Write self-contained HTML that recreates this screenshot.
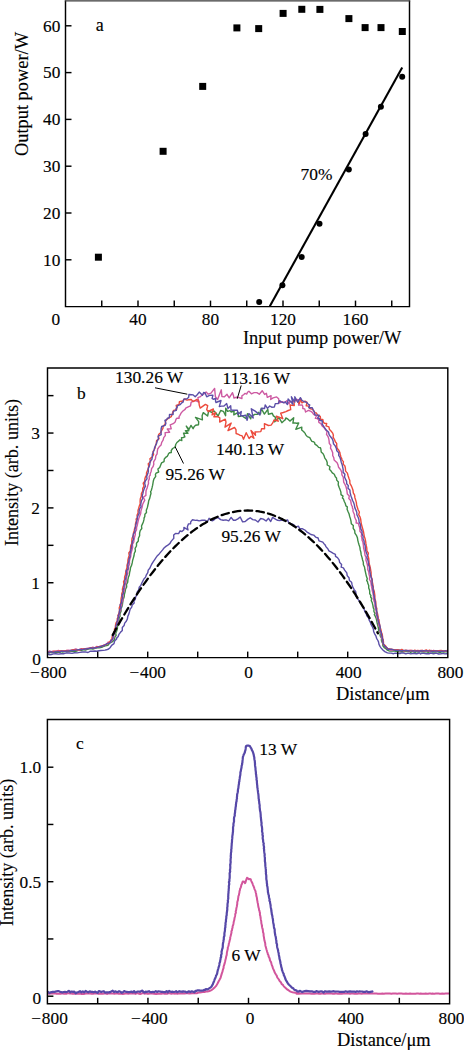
<!DOCTYPE html>
<html><head><meta charset="utf-8"><style>
html,body{margin:0;padding:0;background:#fff;width:464px;height:1050px;overflow:hidden}
svg{display:block}
text{font-family:"Liberation Serif", serif;stroke:#000;stroke-width:0.15px}
</style></head><body>
<svg width="464" height="1050" viewBox="0 0 464 1050" font-family='"Liberation Serif", serif' fill="#000">
<rect width="464" height="1050" fill="#fff"/>
<path d="M48.0,652.7 L49.4,652.7 L51.2,652.3 L53.4,652.6 L55.8,652.5 L58.5,652.1 L59.8,652.4 L61.2,651.5 L62.6,652.1 L64.0,651.6 L65.4,651.6 L66.8,651.7 L68.1,651.6 L70.8,651.4 L73.2,651.1 L75.9,651.3 L78.5,650.4 L79.8,649.8 L81.3,650.5 L82.6,649.9 L84.0,649.9 L85.4,650.1 L88.0,649.1 L90.5,648.6 L92.9,649.1 L94.9,648.3 L96.7,647.9 L98.9,647.8 L100.5,647.5 L102.3,647.0 L104.0,646.2 L105.3,645.9 L107.9,645.4 L109.7,643.1 L111.7,642.2 L113.5,640.7 L114.6,639.3 L114.9,636.9 L116.1,635.5 L115.7,633.3 L116.6,631.3 L117.3,629.1 L117.5,626.6 L118.2,624.0 L118.9,621.4 L119.0,620.1 L119.1,618.7 L119.4,617.3 L120.1,616.1 L119.9,614.6 L120.2,613.3 L121.1,611.0 L121.0,608.6 L122.0,606.4 L122.5,604.0 L122.8,601.6 L123.3,599.2 L124.2,596.8 L124.4,594.3 L125.1,591.8 L125.5,589.3 L126.7,587.0 L126.5,584.4 L127.7,582.1 L127.9,579.6 L128.4,577.3 L129.3,574.9 L129.6,572.5 L130.2,570.1 L130.5,567.6 L131.6,565.3 L132.2,562.9 L132.6,560.5 L133.3,558.1 L134.0,555.8 L134.3,553.3 L135.4,551.1 L135.1,548.4 L136.5,546.0 L136.5,543.3 L138.3,541.0 L138.4,538.2 L139.6,535.8 L139.6,533.1 L140.2,530.6 L141.8,528.5 L141.5,526.0 L142.5,523.9 L143.3,522.0 L144.0,519.4 L144.1,517.8 L144.8,516.6 L144.9,514.2 L146.5,512.5 L146.3,510.2 L147.2,507.9 L147.6,506.6 L147.9,505.0 L148.4,503.0 L148.7,500.7 L149.7,498.4 L150.3,495.8 L151.0,493.2 L150.6,491.7 L151.3,490.5 L152.0,487.9 L152.6,485.4 L153.0,483.0 L153.4,480.7 L154.0,478.8 L155.7,476.3 L155.4,474.5 L156.1,473.2 L158.7,472.0 L157.9,469.1 L159.7,467.5 L160.6,465.2 L161.5,462.9 L164.0,461.6 L164.3,458.9 L166.0,457.1 L167.2,456.3 L167.9,455.1 L168.5,453.8 L169.5,452.8 L171.3,452.5 L171.2,450.6 L172.6,448.5 L175.2,447.1 L175.7,444.5 L176.9,442.5 L178.9,440.9 L179.7,439.8 L181.8,440.5 L181.5,437.6 L183.2,437.5 L184.9,436.9 L183.5,433.1 L188.0,433.3 L185.4,430.8 L188.8,430.7 L186.3,426.1 L189.1,429.2 L191.0,425.4 L193.1,428.7 L194.3,426.4 L195.6,425.2 L198.5,424.7 L198.7,421.6 L195.5,417.4 L199.6,418.9 L202.4,419.9 L202.1,415.8 L203.3,412.6 L207.6,416.0 L208.7,410.9 L211.6,412.3 L214.0,410.9 L215.6,412.8 L218.1,416.0 L220.7,410.5 L223.4,411.3 L225.6,415.8 L225.7,408.1 L227.6,411.3 L230.0,410.6 L231.2,412.0 L234.1,411.0 L233.8,414.9 L238.2,412.4 L238.3,416.6 L240.3,416.3 L242.0,415.7 L243.9,417.2 L246.2,418.7 L247.5,413.6 L250.7,418.8 L251.2,416.3 L252.5,415.8 L254.7,414.4 L257.6,414.4 L258.3,412.3 L260.5,413.8 L261.2,408.3 L264.4,414.1 L267.8,409.3 L268.4,414.2 L272.2,413.3 L273.4,415.9 L275.6,417.3 L274.7,421.8 L279.1,417.4 L280.4,420.2 L281.9,422.7 L284.0,420.8 L285.1,419.9 L285.8,418.0 L287.7,418.9 L289.9,421.1 L293.7,417.8 L292.9,423.1 L294.8,422.9 L296.6,423.2 L298.7,423.0 L295.8,429.3 L301.8,427.1 L301.7,430.0 L303.5,431.5 L305.2,433.4 L305.8,434.9 L307.3,436.6 L309.8,437.6 L311.1,440.2 L311.9,441.4 L313.5,441.7 L314.6,442.5 L314.9,444.2 L317.1,445.6 L318.6,447.4 L320.4,447.8 L320.9,449.2 L321.2,452.0 L323.1,453.7 L324.1,455.8 L324.8,458.1 L326.3,460.1 L327.2,462.4 L327.2,465.0 L329.9,466.5 L329.4,469.3 L331.1,471.1 L332.3,472.9 L334.3,474.3 L335.3,476.8 L336.5,477.9 L336.7,480.1 L338.4,482.0 L338.2,484.7 L339.1,487.2 L340.1,489.7 L340.9,492.1 L341.0,494.6 L343.0,496.1 L342.4,498.0 L343.5,499.1 L344.3,501.5 L345.3,503.5 L345.9,505.9 L347.3,506.9 L347.1,509.3 L348.0,511.5 L349.0,513.7 L349.6,516.2 L350.4,518.6 L351.0,521.2 L351.3,523.7 L353.3,525.6 L353.2,528.3 L354.7,530.5 L354.9,533.1 L356.4,535.3 L357.4,537.7 L357.8,540.3 L358.4,542.7 L359.1,545.0 L359.9,547.4 L360.2,549.9 L360.9,552.3 L361.2,554.9 L362.0,557.4 L362.5,559.7 L363.3,562.1 L363.4,564.7 L364.5,567.0 L364.9,569.5 L365.4,571.9 L365.9,574.2 L366.4,576.3 L367.3,578.8 L366.7,580.5 L367.6,581.8 L367.7,583.1 L368.7,585.5 L368.7,587.9 L369.5,590.0 L369.7,591.4 L369.7,593.6 L370.9,595.6 L370.6,597.0 L371.7,598.5 L371.3,600.7 L372.3,602.8 L372.9,605.3 L373.3,607.9 L374.0,609.1 L373.9,610.6 L374.0,611.9 L375.1,613.1 L374.3,614.7 L375.1,615.9 L376.1,618.2 L376.7,620.7 L377.2,623.3 L377.9,625.9 L378.5,628.5 L378.6,631.1 L380.3,633.1 L380.1,635.4 L380.7,636.9 L381.6,638.2 L381.4,639.8 L381.6,641.2 L382.7,643.5 L382.9,645.9 L384.2,647.7 L385.9,648.7 L387.2,650.1 L389.7,651.1 L392.0,651.1 L395.0,651.1 L396.6,651.5 L398.5,651.5 L400.5,651.7 L402.8,651.8 L405.3,651.4 L408.0,651.5 L409.3,651.5 L410.7,652.5 L412.1,651.4 L413.6,651.7 L415.0,652.5 L416.5,651.7 L418.0,652.2 L419.4,651.4 L420.9,651.7 L422.4,651.8 L423.9,652.1 L425.3,651.9 L426.8,651.9 L428.2,652.4 L429.7,651.9 L431.1,651.4 L432.4,652.1 L435.1,652.0 L437.6,651.6 L439.9,652.6 L442.1,651.7 L444.0,652.1 L445.6,651.5 L447.0,651.7 L447.0,651.9" fill="none" stroke="#3f8b45" stroke-width="1.4" stroke-linejoin="round" stroke-linecap="round" />
<path d="M48.0,652.4 L49.4,651.0 L51.3,651.6 L53.4,651.3 L55.8,651.4 L58.4,650.5 L59.8,651.1 L61.2,650.7 L62.6,650.6 L64.0,650.7 L65.4,650.6 L66.8,650.5 L68.1,650.2 L70.8,650.5 L73.2,649.8 L75.8,649.0 L78.6,650.2 L79.9,649.0 L81.3,649.0 L82.7,649.1 L84.0,648.8 L85.4,648.6 L88.0,648.1 L90.6,648.2 L92.8,647.2 L95.0,648.0 L96.6,646.5 L99.0,646.9 L100.5,646.4 L102.4,645.8 L104.0,645.0 L106.5,644.3 L108.0,642.1 L110.7,642.0 L111.8,640.6 L112.5,639.3 L113.9,637.1 L113.6,635.3 L114.7,633.5 L114.8,631.3 L116.2,629.1 L116.1,626.5 L117.0,623.9 L118.2,622.8 L117.6,621.2 L118.0,619.9 L118.5,618.6 L118.4,617.2 L119.0,615.9 L119.6,614.6 L119.5,611.9 L120.8,609.8 L120.6,607.3 L121.7,605.1 L121.7,602.6 L123.0,600.4 L122.9,597.8 L123.1,595.3 L123.5,592.8 L124.4,590.4 L124.8,587.9 L125.0,585.3 L125.9,582.9 L126.3,580.6 L126.4,578.3 L126.9,575.9 L127.7,573.6 L127.7,571.1 L128.5,568.8 L128.6,566.3 L129.6,564.0 L129.4,561.4 L129.9,559.0 L130.7,556.7 L130.9,554.3 L131.4,552.0 L132.1,549.5 L132.7,547.0 L132.4,544.4 L133.8,542.0 L134.0,539.5 L134.6,537.0 L135.3,534.6 L135.3,532.0 L136.5,529.8 L136.6,527.4 L137.3,525.2 L137.7,523.0 L138.3,520.6 L138.9,518.1 L139.8,515.7 L140.7,513.4 L140.9,511.0 L141.6,508.9 L142.2,506.7 L142.6,504.5 L143.6,502.3 L144.8,500.2 L143.3,497.3 L145.9,495.4 L145.9,492.9 L146.1,490.4 L147.1,488.0 L147.7,485.7 L148.5,483.4 L148.4,481.0 L149.3,478.9 L149.2,476.3 L150.2,475.2 L150.2,473.7 L151.2,471.2 L151.6,468.6 L153.1,466.5 L153.8,464.3 L153.6,461.9 L155.0,459.7 L155.5,458.4 L155.8,455.8 L157.1,453.8 L157.3,451.4 L157.7,449.0 L159.2,446.8 L161.1,444.9 L161.7,442.3 L163.1,440.2 L163.7,437.6 L165.3,435.6 L165.1,432.6 L169.6,432.2 L167.3,429.0 L171.2,428.7 L170.2,424.8 L173.2,423.7 L175.2,421.9 L176.0,419.3 L176.9,418.3 L179.1,418.2 L179.1,416.5 L179.9,415.3 L181.2,412.9 L182.9,411.0 L185.1,409.4 L185.7,408.1 L188.2,406.8 L190.5,405.8 L191.1,402.3 L193.1,401.1 L195.7,400.6 L198.8,402.1 L197.9,397.7 L200.5,396.6 L202.3,394.6 L204.4,393.6 L206.1,391.9 L208.2,394.2 L211.0,393.2 L214.6,388.4 L215.4,396.8 L217.6,399.5 L221.3,389.8 L221.9,396.5 L224.2,396.9 L227.0,394.3 L229.2,397.8 L232.5,392.7 L233.5,395.7 L233.9,398.0 L236.7,397.3 L238.3,397.3 L241.9,398.5 L241.9,395.9 L243.9,394.5 L244.9,393.4 L246.8,394.1 L247.5,392.3 L248.9,391.3 L251.4,393.8 L254.1,392.6 L256.8,392.6 L259.3,394.2 L262.2,390.7 L264.6,394.4 L266.4,393.3 L267.3,397.4 L271.1,395.7 L270.7,399.5 L273.1,397.9 L276.6,396.9 L278.7,398.8 L279.0,403.1 L282.4,401.6 L284.6,402.8 L286.8,400.7 L289.1,403.9 L289.9,401.2 L291.4,401.7 L293.8,401.1 L295.7,399.5 L298.9,399.8 L298.6,405.1 L302.2,404.9 L302.8,406.5 L302.8,408.5 L304.7,408.9 L305.6,412.0 L308.4,410.4 L310.9,411.4 L312.3,412.4 L313.6,414.4 L316.4,415.8 L315.3,418.4 L317.4,418.6 L318.6,419.6 L318.8,422.3 L320.9,423.6 L322.1,425.9 L324.0,427.6 L325.4,429.6 L327.1,431.4 L326.5,434.3 L327.9,436.3 L328.7,438.5 L329.1,440.9 L329.3,443.4 L330.9,445.5 L330.5,448.2 L331.8,450.4 L332.7,452.8 L332.7,455.5 L333.8,457.7 L334.1,460.0 L335.2,461.0 L337.1,462.8 L338.0,464.9 L338.6,467.3 L340.2,469.2 L341.0,470.4 L341.8,472.5 L341.9,474.8 L343.2,477.0 L343.5,479.5 L343.7,482.1 L345.0,484.5 L346.0,486.8 L346.6,489.0 L347.0,491.4 L347.3,493.9 L349.3,495.9 L348.8,498.6 L350.7,500.6 L351.0,503.0 L351.6,505.4 L352.4,506.6 L352.4,508.0 L353.1,509.3 L352.9,510.8 L353.3,512.0 L354.4,514.5 L354.6,517.0 L355.5,519.0 L356.3,520.6 L356.1,523.0 L358.3,523.2 L358.9,525.4 L359.5,527.0 L359.9,529.0 L359.9,531.3 L361.7,533.5 L361.3,536.3 L361.8,537.6 L362.0,538.9 L362.1,540.3 L362.8,541.6 L363.0,542.9 L363.4,545.5 L363.6,548.0 L364.2,550.4 L364.7,552.7 L365.0,555.1 L366.1,557.4 L365.9,560.0 L366.7,562.3 L367.3,564.7 L367.8,567.2 L367.8,569.7 L368.8,571.9 L369.0,574.4 L369.7,576.8 L369.5,579.3 L370.8,581.6 L371.1,584.0 L371.5,586.4 L372.0,588.9 L372.4,591.3 L373.3,593.7 L373.4,596.2 L373.5,598.8 L374.1,601.3 L375.0,603.7 L374.9,606.3 L375.6,608.8 L376.3,611.2 L376.1,613.6 L377.0,615.9 L376.7,617.3 L377.5,618.5 L377.6,619.9 L378.5,622.4 L378.5,625.1 L379.8,627.5 L379.6,630.0 L380.2,632.3 L381.5,634.2 L381.3,636.9 L381.8,638.3 L382.5,639.6 L382.4,642.2 L383.6,644.3 L384.7,646.1 L386.4,647.2 L387.5,648.5 L389.2,648.9 L391.0,650.4 L393.9,649.6 L395.6,649.9 L397.6,649.8 L400.0,651.0 L401.7,649.8 L403.7,651.0 L405.9,650.6 L408.3,650.5 L410.9,650.5 L413.6,650.8 L415.0,650.4 L416.4,651.1 L417.9,651.1 L419.3,650.7 L420.8,650.9 L422.2,650.4 L423.7,651.0 L425.1,650.5 L426.6,650.9 L428.0,651.1 L429.5,651.4 L430.9,650.5 L432.3,650.8 L433.6,650.3 L436.2,651.2 L438.7,650.6 L441.0,650.6 L443.0,650.7 L444.8,651.2 L446.4,650.8 L447.0,651.1" fill="none" stroke="#cd5aa2" stroke-width="1.4" stroke-linejoin="round" stroke-linecap="round" />
<path d="M48.0,652.4 L49.4,652.1 L51.2,651.6 L53.4,651.4 L55.8,651.3 L58.5,651.5 L59.8,651.0 L61.2,650.9 L62.6,651.3 L64.0,651.0 L65.4,651.0 L66.7,650.4 L68.1,650.8 L70.8,650.4 L73.2,649.8 L75.9,650.3 L78.5,649.6 L80.0,650.0 L81.2,649.0 L82.7,649.0 L84.1,649.3 L85.4,648.6 L88.1,648.6 L90.5,647.8 L92.9,647.9 L95.0,647.7 L96.7,647.2 L98.9,646.7 L100.4,646.2 L102.5,646.2 L104.0,645.3 L105.5,644.9 L106.7,644.1 L108.1,643.6 L108.9,642.4 L110.6,640.7 L111.9,638.2 L112.2,636.4 L113.3,634.4 L113.9,631.9 L114.8,630.8 L114.4,629.2 L115.1,628.0 L115.4,626.6 L115.5,625.2 L116.0,622.8 L117.3,621.0 L117.2,618.9 L118.2,616.8 L117.9,615.3 L118.7,613.9 L119.3,612.1 L119.5,610.2 L119.2,608.0 L119.9,605.9 L120.6,603.6 L121.0,601.2 L121.1,598.6 L121.7,596.0 L121.8,593.3 L122.5,592.0 L122.6,590.7 L122.4,589.3 L122.7,587.9 L123.2,586.6 L123.9,584.0 L123.5,581.7 L124.6,579.5 L124.6,577.1 L125.4,574.8 L125.7,572.3 L126.2,569.9 L127.0,567.6 L127.0,565.1 L127.8,562.7 L127.9,560.2 L128.4,557.8 L129.2,555.5 L128.8,553.0 L130.3,550.8 L130.5,548.3 L130.7,545.7 L131.8,543.3 L131.8,540.7 L132.1,538.1 L133.4,535.8 L133.4,533.3 L134.1,530.9 L134.6,528.6 L135.4,526.4 L135.4,524.1 L136.0,522.0 L136.4,520.6 L136.1,519.1 L137.4,518.0 L137.0,515.2 L138.1,512.9 L138.0,510.4 L138.7,508.2 L139.3,505.9 L140.2,503.7 L140.1,501.2 L140.3,498.7 L141.3,496.2 L141.4,493.6 L142.7,491.1 L142.7,488.4 L144.0,486.1 L143.2,483.3 L144.8,481.3 L144.8,479.0 L145.6,476.5 L146.5,475.3 L146.5,472.7 L147.5,470.6 L148.2,468.5 L148.7,466.3 L148.2,463.7 L150.6,461.8 L149.9,458.8 L152.3,456.8 L153.6,454.5 L153.0,451.6 L154.3,449.5 L155.0,448.2 L155.5,445.6 L156.3,443.2 L156.6,440.6 L159.1,438.7 L158.5,437.1 L158.6,434.6 L160.6,432.8 L161.6,430.6 L162.9,428.5 L163.3,426.0 L165.1,424.2 L165.5,421.5 L166.8,419.4 L169.0,417.9 L171.3,416.6 L172.1,414.2 L173.0,411.7 L173.6,410.4 L175.4,409.9 L176.8,409.2 L176.7,407.5 L176.2,405.4 L179.1,404.4 L179.4,401.6 L181.3,401.2 L182.9,401.0 L184.4,399.0 L187.0,400.1 L188.7,399.8 L191.2,399.5 L193.1,401.6 L197.0,399.4 L198.8,401.3 L199.3,405.3 L200.2,408.1 L205.4,404.4 L207.7,405.7 L206.7,409.6 L208.2,411.5 L213.4,409.0 L212.1,414.9 L215.8,412.6 L213.9,416.9 L217.7,416.5 L219.8,417.9 L219.7,422.0 L225.3,419.2 L226.0,422.2 L225.0,427.1 L231.2,423.1 L228.0,430.6 L234.5,427.5 L236.0,429.7 L236.1,433.5 L238.5,434.3 L239.6,435.1 L242.2,435.9 L243.5,439.2 L246.2,432.7 L249.1,438.5 L251.1,436.2 L253.9,438.3 L251.0,430.4 L255.5,435.2 L255.0,432.0 L257.9,431.9 L260.8,431.6 L261.6,428.7 L264.6,428.7 L264.4,423.7 L268.4,425.5 L271.1,425.1 L272.9,422.7 L274.0,420.0 L278.2,421.2 L276.4,416.1 L282.8,418.7 L280.7,413.2 L283.3,412.5 L285.9,411.6 L288.2,410.5 L290.7,409.7 L290.1,405.0 L292.1,405.2 L294.3,405.5 L294.0,401.3 L296.0,399.9 L299.3,403.7 L300.8,398.9 L301.9,402.8 L305.1,401.1 L307.0,402.4 L306.2,405.7 L308.7,406.1 L309.7,408.5 L312.5,409.3 L314.2,411.4 L314.9,412.6 L316.4,413.0 L317.8,415.4 L320.3,416.5 L320.7,419.6 L322.8,419.5 L323.1,421.1 L323.6,422.6 L324.7,423.4 L326.7,423.5 L326.0,425.9 L328.9,426.9 L329.5,429.5 L331.0,431.0 L332.7,433.1 L333.4,435.2 L333.1,437.2 L334.7,440.0 L335.3,441.7 L336.7,443.4 L336.7,445.8 L337.1,448.2 L338.8,450.2 L340.0,452.7 L340.1,454.2 L340.6,455.5 L340.8,457.0 L341.7,458.3 L341.9,459.9 L343.4,461.6 L343.2,464.1 L344.9,466.0 L345.4,468.4 L345.6,471.1 L347.4,473.1 L348.1,475.7 L348.9,478.2 L349.8,480.6 L349.9,483.4 L351.2,485.6 L352.2,488.0 L353.0,490.3 L353.3,492.9 L354.6,495.2 L354.9,497.7 L355.7,500.1 L356.4,502.6 L356.6,505.1 L357.4,507.4 L358.1,509.8 L359.4,512.0 L358.7,514.7 L360.0,516.9 L360.7,519.3 L361.0,521.8 L361.4,524.3 L362.1,526.7 L362.8,529.2 L363.5,531.6 L363.9,534.0 L364.3,536.5 L365.1,538.8 L365.6,541.1 L365.9,543.4 L366.3,545.7 L366.8,548.1 L366.9,550.8 L368.4,553.1 L367.9,555.7 L368.7,558.1 L368.9,560.5 L369.1,562.9 L369.6,565.3 L370.3,567.6 L370.6,570.0 L371.1,572.4 L371.1,574.8 L371.4,577.2 L372.3,579.4 L372.3,581.9 L372.8,584.2 L373.2,586.5 L373.4,588.9 L374.2,591.3 L374.6,593.7 L374.9,596.2 L374.8,598.7 L375.7,601.2 L375.9,603.8 L376.0,606.3 L376.9,608.7 L376.5,611.3 L377.5,613.6 L378.0,615.9 L378.1,617.2 L378.0,618.6 L379.0,619.8 L379.2,622.5 L379.7,625.1 L380.3,627.6 L381.0,629.9 L381.4,632.2 L382.2,634.3 L382.6,636.8 L382.6,638.3 L383.1,639.6 L383.5,642.1 L383.3,644.5 L385.5,645.6 L386.1,647.7 L387.6,648.5 L389.1,649.1 L391.1,649.2 L393.9,649.6 L395.6,650.0 L397.6,649.8 L400.0,650.3 L401.8,649.4 L403.7,650.8 L405.9,650.1 L408.3,650.8 L410.9,650.5 L413.6,650.6 L415.0,650.3 L416.4,650.7 L417.8,650.4 L419.3,650.7 L420.7,650.5 L422.2,650.4 L423.7,651.3 L425.1,650.5 L426.6,650.0 L428.0,651.2 L429.5,650.2 L430.9,650.9 L432.2,650.6 L433.6,650.7 L436.2,650.9 L438.7,650.6 L441.0,650.4 L443.0,651.0 L444.8,650.9 L446.4,651.2 L447.0,650.4" fill="none" stroke="#ec4a3c" stroke-width="1.4" stroke-linejoin="round" stroke-linecap="round" />
<path d="M48.0,652.3 L49.4,652.5 L51.2,651.7 L53.4,652.4 L55.8,651.6 L58.5,651.6 L59.9,652.1 L61.2,651.2 L62.6,651.3 L64.0,651.5 L65.4,651.3 L66.8,650.9 L68.1,651.1 L70.7,650.4 L73.2,650.5 L75.8,650.1 L78.5,649.6 L79.9,649.6 L81.3,649.4 L82.7,649.6 L84.0,649.2 L85.4,649.0 L88.0,648.8 L90.5,648.0 L92.9,648.3 L94.9,647.8 L96.7,647.7 L98.9,646.8 L100.5,646.8 L102.2,645.8 L104.1,645.7 L106.2,644.0 L108.5,643.3 L110.6,642.3 L110.9,640.3 L112.6,639.6 L113.0,637.0 L113.4,635.4 L114.2,633.5 L114.7,631.4 L115.5,629.1 L115.8,626.5 L116.6,623.9 L116.9,622.6 L117.2,621.2 L117.8,620.0 L117.8,618.5 L118.6,617.3 L118.1,615.8 L118.9,614.6 L119.4,612.0 L119.7,609.6 L121.1,607.5 L120.1,604.9 L121.6,602.7 L121.6,600.2 L122.6,597.9 L121.9,595.3 L123.5,593.0 L123.1,590.4 L123.9,587.9 L124.1,585.3 L124.9,582.9 L124.8,580.5 L125.7,578.3 L126.1,576.0 L126.8,573.6 L126.1,571.0 L128.0,568.9 L127.8,566.3 L128.0,563.8 L128.8,561.5 L129.0,559.0 L130.0,556.8 L129.9,554.3 L130.4,552.0 L131.0,549.5 L131.5,546.9 L132.0,544.4 L132.3,541.8 L133.6,539.3 L132.8,536.6 L133.4,534.1 L134.9,531.8 L134.9,529.4 L135.5,527.2 L135.8,525.0 L136.3,523.0 L136.9,520.4 L137.4,519.0 L137.3,517.6 L138.1,515.3 L139.2,513.3 L139.1,511.1 L139.6,508.9 L141.1,506.6 L140.7,505.0 L141.0,502.9 L141.5,500.7 L142.7,498.5 L142.2,495.9 L142.9,493.4 L143.4,490.9 L144.3,488.5 L145.4,486.1 L144.7,483.4 L145.2,481.0 L147.0,478.9 L146.7,476.2 L147.8,473.8 L148.4,471.3 L148.2,468.6 L149.3,466.3 L149.9,463.9 L150.0,461.4 L151.8,459.5 L152.3,457.2 L152.3,454.5 L153.2,452.2 L154.1,449.9 L154.6,447.6 L155.6,445.5 L156.6,443.4 L157.2,441.1 L158.4,439.0 L158.1,436.2 L161.2,434.7 L161.0,431.8 L161.1,429.0 L161.7,426.5 L165.2,425.3 L165.9,423.2 L164.9,420.3 L166.8,419.5 L167.5,418.1 L169.3,417.8 L169.5,414.5 L173.1,414.6 L173.2,411.3 L176.3,410.4 L176.1,408.4 L177.2,407.5 L177.3,405.8 L180.1,404.7 L181.7,402.9 L183.1,402.2 L183.4,400.5 L183.8,399.1 L187.1,398.7 L188.7,397.3 L188.9,394.5 L191.7,394.7 L193.2,394.9 L195.2,396.7 L197.2,394.7 L199.2,392.1 L202.5,395.2 L203.6,392.4 L205.1,392.9 L206.7,396.8 L209.5,395.4 L212.9,395.3 L212.1,398.4 L213.2,399.2 L215.8,398.5 L215.5,401.0 L216.0,402.5 L221.0,400.5 L219.3,406.6 L221.5,406.1 L224.0,406.0 L226.7,403.6 L228.0,408.6 L230.7,405.8 L231.0,410.0 L233.9,410.2 L235.4,410.3 L237.3,410.1 L237.8,411.9 L237.8,414.5 L241.3,411.6 L240.5,415.8 L243.4,415.7 L245.7,415.1 L247.1,420.4 L248.8,413.6 L253.2,418.0 L251.3,408.8 L255.2,411.1 L259.9,415.0 L260.5,410.4 L262.0,408.2 L264.6,408.5 L265.2,404.9 L267.5,408.4 L269.7,406.0 L271.7,407.2 L274.3,407.1 L275.3,403.6 L278.2,403.6 L279.5,400.7 L281.4,401.9 L283.8,402.8 L285.2,401.8 L287.4,404.5 L288.1,399.0 L293.0,404.2 L291.4,396.8 L294.9,402.1 L294.8,396.8 L297.8,402.2 L300.4,397.7 L301.9,400.4 L303.9,401.5 L306.6,402.3 L308.4,404.4 L309.7,405.0 L308.8,407.7 L312.3,407.7 L313.2,410.0 L314.4,412.2 L314.9,414.9 L319.2,415.2 L317.6,418.0 L319.5,418.5 L319.6,420.3 L322.4,421.0 L322.1,424.0 L323.5,426.1 L324.9,428.2 L326.4,430.3 L328.5,432.0 L329.1,434.7 L330.6,436.8 L332.2,438.7 L333.1,441.1 L333.5,443.8 L335.2,445.9 L336.3,448.2 L336.8,450.8 L338.8,452.7 L338.7,455.4 L340.0,457.5 L340.7,459.8 L341.3,462.4 L342.2,464.8 L342.7,467.2 L343.2,469.7 L343.1,472.2 L344.9,474.3 L344.5,477.0 L345.6,479.2 L346.6,481.4 L346.7,483.7 L348.3,485.6 L348.0,488.2 L349.9,490.0 L350.1,492.6 L350.8,495.2 L351.2,496.5 L351.9,498.5 L352.7,500.7 L353.7,502.8 L354.4,505.1 L354.8,507.6 L355.8,509.9 L356.8,512.2 L356.9,514.8 L358.1,517.2 L358.9,519.5 L359.1,522.0 L360.3,524.2 L360.5,526.7 L360.9,529.1 L362.1,531.4 L362.0,533.9 L363.1,536.2 L363.0,538.8 L364.1,541.0 L364.2,543.4 L365.2,545.6 L365.3,548.1 L365.7,550.6 L366.4,552.9 L367.4,555.2 L366.9,557.7 L367.8,559.9 L368.5,562.2 L368.4,564.7 L369.6,567.0 L369.6,569.6 L369.9,571.9 L370.4,574.3 L370.9,576.7 L371.8,579.1 L372.1,581.7 L371.9,584.3 L373.0,586.7 L372.9,589.2 L373.7,591.5 L373.4,593.9 L374.2,596.0 L374.4,597.4 L374.7,598.8 L374.9,600.2 L375.4,602.7 L375.5,605.2 L376.0,607.6 L376.4,610.0 L377.0,612.3 L376.8,614.9 L377.9,617.2 L378.0,619.9 L378.7,622.4 L379.7,624.9 L380.2,627.5 L380.0,630.1 L381.3,632.3 L381.5,634.5 L382.2,637.0 L382.4,638.5 L382.9,639.8 L382.9,642.4 L383.8,644.5 L384.7,646.5 L386.7,647.3 L387.4,649.2 L389.2,649.2 L391.2,649.2 L393.9,650.0 L395.6,650.2 L397.6,650.4 L400.0,650.3 L401.7,650.9 L403.7,650.4 L405.9,650.4 L408.3,650.7 L410.9,651.1 L413.6,650.6 L415.0,651.2 L416.4,651.0 L417.8,650.9 L419.3,651.1 L420.7,650.8 L422.2,651.0 L423.7,650.8 L425.1,650.9 L426.6,650.7 L428.0,651.1 L429.5,650.9 L430.9,650.9 L432.2,651.3 L433.6,651.2 L436.2,650.9 L438.7,651.5 L441.0,651.2 L443.0,651.3 L444.8,650.8 L446.4,650.9 L447.0,651.6" fill="none" stroke="#5b4fa8" stroke-width="1.4" stroke-linejoin="round" stroke-linecap="round" />
<path d="M48.0,654.1 L49.4,654.7 L51.3,654.5 L53.4,653.9 L55.8,653.8 L58.5,654.1 L61.2,653.8 L64.0,653.7 L66.7,652.9 L69.5,653.0 L72.0,653.4 L74.5,652.8 L77.2,652.9 L79.9,652.4 L82.6,652.0 L85.3,651.9 L88.0,652.5 L90.4,651.1 L92.8,651.2 L94.9,651.0 L96.7,651.2 L99.1,650.8 L100.8,650.5 L103.1,650.4 L105.0,650.1 L106.4,649.8 L108.6,649.0 L110.3,647.4 L111.6,645.3 L114.0,643.7 L114.6,641.1 L116.6,639.1 L116.9,637.6 L118.1,636.7 L118.9,634.4 L120.5,632.3 L122.3,630.4 L122.3,627.5 L124.1,625.6 L124.7,623.1 L126.3,621.2 L127.4,618.9 L127.8,616.4 L128.8,614.1 L129.5,611.7 L130.1,609.3 L131.7,607.2 L132.2,604.9 L134.2,603.0 L133.9,601.0 L135.3,599.3 L135.7,596.9 L136.9,594.6 L137.2,591.9 L138.7,589.8 L139.2,587.3 L140.8,585.5 L141.7,583.2 L142.8,581.1 L143.9,579.0 L145.6,577.1 L146.4,574.8 L147.8,572.7 L148.2,570.1 L149.8,568.2 L150.8,566.0 L151.8,564.0 L153.3,561.7 L154.7,559.6 L156.0,557.6 L157.4,555.7 L159.2,553.9 L160.9,551.9 L162.6,549.9 L164.0,548.0 L165.9,546.4 L167.8,545.2 L170.0,543.4 L171.1,541.4 L172.8,539.4 L173.8,538.3 L173.7,535.1 L175.5,533.4 L178.6,533.6 L180.1,530.8 L181.9,531.6 L183.9,529.7 L183.9,527.4 L188.0,529.9 L187.3,526.9 L188.4,523.9 L190.6,523.7 L190.7,521.9 L192.5,519.7 L195.5,520.4 L197.0,520.3 L199.2,520.9 L202.0,520.3 L204.8,520.1 L207.4,521.8 L209.1,518.3 L212.2,520.9 L213.8,520.1 L215.8,518.3 L218.1,517.6 L220.6,519.6 L223.2,520.3 L226.0,519.9 L228.7,520.8 L231.1,517.4 L233.4,520.2 L235.6,520.2 L237.9,518.9 L240.2,517.0 L242.6,521.9 L245.2,521.5 L248.0,519.1 L250.2,517.8 L252.7,519.6 L255.3,520.0 L258.0,522.0 L260.7,518.5 L263.4,519.1 L266.1,521.0 L268.5,518.3 L270.7,521.5 L272.6,517.4 L275.8,519.3 L277.7,520.3 L279.7,520.6 L282.0,520.0 L284.3,520.9 L287.5,519.9 L289.0,523.4 L291.8,523.9 L294.0,524.9 L295.7,526.9 L298.5,526.3 L299.9,528.8 L302.6,528.8 L304.9,530.0 L306.7,531.8 L308.8,533.1 L310.9,534.5 L313.7,535.1 L315.6,537.1 L318.1,538.0 L319.0,540.9 L321.3,541.6 L322.8,542.2 L323.7,543.4 L324.8,544.4 L326.1,546.9 L327.8,548.8 L328.9,550.9 L331.3,552.1 L333.3,553.3 L335.4,554.4 L335.5,556.4 L337.5,557.7 L339.1,559.8 L339.7,562.6 L341.6,564.5 L341.2,567.2 L343.4,567.9 L344.5,569.9 L345.4,571.1 L346.8,572.9 L347.2,575.6 L349.0,577.7 L349.4,580.5 L351.6,582.3 L352.1,584.9 L352.9,587.4 L354.2,589.6 L355.7,591.6 L356.0,593.9 L356.1,596.4 L357.4,598.6 L358.9,600.4 L360.0,602.6 L361.4,604.7 L363.0,606.9 L364.2,609.4 L364.8,611.6 L366.2,613.5 L366.8,615.8 L368.5,617.7 L369.2,620.2 L370.4,622.4 L371.1,624.7 L372.4,626.8 L373.4,629.2 L373.7,631.8 L374.8,634.1 L376.0,636.2 L376.6,638.3 L377.9,640.5 L378.5,641.9 L379.0,644.4 L380.0,646.3 L381.2,648.1 L382.9,650.0 L384.8,651.6 L387.4,652.9 L389.1,653.1 L391.2,653.1 L393.5,653.7 L395.2,653.1 L397.3,653.4 L400.0,653.5 L401.7,652.9 L403.6,653.0 L405.8,653.9 L408.2,653.1 L410.8,653.9 L413.5,653.3 L416.3,653.7 L417.7,653.5 L419.2,652.8 L420.6,654.0 L422.1,653.2 L423.5,653.4 L425.0,653.5 L426.5,653.8 L427.9,653.7 L429.4,653.7 L430.8,653.0 L433.5,653.7 L436.2,653.1 L438.7,654.0 L440.9,653.8 L443.0,653.4 L444.8,653.9 L446.4,653.7 L447.0,653.9" fill="none" stroke="#5b4fa8" stroke-width="1.4" stroke-linejoin="round" stroke-linecap="round" />
<path d="M112.7,635.0 L115.2,630.4 L117.7,625.9 L120.2,621.5 L122.7,617.2 L125.2,613.0 L127.7,608.9 L130.2,604.8 L132.7,600.8 L135.2,597.0 L137.7,593.2 L140.2,589.4 L142.7,585.8 L145.2,582.3 L147.7,578.8 L150.2,575.4 L152.7,572.2 L155.2,569.0 L157.7,565.8 L160.2,562.8 L162.7,559.9 L165.2,557.0 L167.7,554.2 L170.2,551.5 L172.7,548.9 L175.2,546.4 L177.7,544.0 L180.2,541.6 L182.7,539.4 L185.2,537.2 L187.7,535.1 L190.2,533.1 L192.7,531.2 L195.2,529.3 L197.7,527.6 L200.2,525.9 L202.7,524.3 L205.2,522.9 L207.7,521.4 L210.2,520.1 L212.7,518.9 L215.2,517.7 L217.7,516.7 L220.2,515.7 L222.7,514.8 L225.2,514.0 L227.7,513.3 L230.2,512.6 L232.7,512.1 L235.2,511.6 L237.7,511.2 L240.2,510.9 L242.7,510.7 L245.2,510.6 L247.7,510.5 L250.2,510.6 L252.7,510.7 L255.2,510.9 L257.7,511.2 L260.2,511.7 L262.7,512.1 L265.2,512.7 L267.7,513.4 L270.2,514.2 L272.7,515.0 L275.2,516.0 L277.7,517.0 L280.2,518.2 L282.7,519.4 L285.2,520.7 L287.7,522.1 L290.2,523.6 L292.7,525.2 L295.2,526.9 L297.7,528.6 L300.2,530.5 L302.7,532.4 L305.2,534.5 L307.7,536.6 L310.2,538.8 L312.7,541.1 L315.2,543.5 L317.7,546.0 L320.2,548.6 L322.7,551.3 L325.2,554.0 L327.7,556.9 L330.2,559.8 L332.7,562.9 L335.2,566.0 L337.7,569.2 L340.2,572.5 L342.7,575.9 L345.2,579.4 L347.7,583.0 L350.2,586.6 L352.7,590.4 L355.2,594.2 L357.7,598.2 L360.2,602.2 L362.7,606.3 L365.2,610.5 L367.7,614.8 L370.2,619.2 L372.7,623.7 L375.2,628.3 L377.7,632.9 L377.9,633.4 L377.9,633.4 L377.9,633.4" fill="none" stroke="#000" stroke-width="2.3" stroke-linejoin="round" stroke-linecap="round" stroke-dasharray="7.5 4.3" stroke-linecap="butt"/>
<line x1="155" y1="387.8" x2="187.3" y2="394.2" stroke="#000" stroke-width="1"/>
<line x1="241.2" y1="385.5" x2="237.2" y2="398.8" stroke="#000" stroke-width="1"/>
<line x1="175.1" y1="446.7" x2="183.5" y2="463.5" stroke="#000" stroke-width="1"/>
<text x="115" y="383.3" font-size="17.4" text-anchor="start" >130.26 W</text>
<text x="222.6" y="383.5" font-size="17.4" text-anchor="start" >113.16 W</text>
<text x="216" y="455" font-size="17.4" text-anchor="start" >140.13 W</text>
<text x="165.4" y="480" font-size="17.4" text-anchor="start" >95.26 W</text>
<text x="221.4" y="542" font-size="17.4" text-anchor="start" >95.26 W</text>
<path d="M48.0,993.5 L49.3,993.7 L50.7,993.6 L52.2,993.5 L53.9,993.4 L55.7,993.6 L56.6,993.8 L57.6,993.7 L58.6,993.8 L59.6,993.7 L60.7,993.7 L61.8,993.6 L62.9,993.3 L64.0,993.8 L65.1,993.7 L66.3,993.7 L67.5,993.3 L68.7,993.3 L69.9,993.4 L71.2,993.5 L72.4,993.7 L73.7,993.6 L75.0,993.7 L76.3,993.5 L77.6,993.7 L79.0,993.7 L80.3,993.5 L81.7,994.0 L83.0,993.7 L84.4,993.9 L85.8,993.5 L87.2,993.5 L88.6,993.5 L90.1,993.6 L91.5,993.7 L92.9,993.7 L94.3,993.5 L95.8,993.4 L97.2,993.5 L98.7,993.9 L100.1,993.5 L101.6,993.7 L103.0,993.7 L104.4,993.3 L105.9,993.6 L107.3,993.9 L108.8,993.2 L110.2,993.6 L111.6,993.6 L113.1,993.5 L114.5,993.7 L115.9,993.6 L117.3,993.3 L118.7,993.8 L120.1,993.8 L121.4,993.8 L122.8,993.9 L124.1,993.7 L125.5,993.6 L126.8,993.4 L128.1,993.7 L129.4,993.5 L130.7,993.5 L131.9,993.4 L133.2,993.4 L134.4,993.5 L135.6,993.9 L136.8,993.2 L138.0,993.3 L139.1,993.7 L140.2,993.9 L141.3,993.7 L142.4,993.2 L143.4,993.1 L144.5,993.7 L145.4,993.5 L146.4,993.4 L147.4,993.8 L148.3,993.8 L150.0,993.6 L152.1,993.6 L154.1,993.7 L156.1,993.9 L157.9,993.7 L159.7,993.7 L161.5,993.7 L163.1,993.3 L164.7,993.8 L166.2,993.7 L167.6,993.7 L169.0,993.1 L170.4,993.4 L171.7,993.7 L172.9,993.2 L174.1,993.5 L175.2,993.7 L176.3,993.2 L177.3,993.8 L178.4,993.6 L179.3,993.4 L180.3,993.5 L181.2,993.6 L182.9,993.5 L184.6,993.6 L186.2,993.2 L187.7,993.3 L189.2,993.5 L192.7,993.2 L194.7,993.0 L196.1,993.2 L197.2,993.2 L198.5,992.6 L200.0,992.4 L201.5,992.3 L202.8,992.1 L203.9,991.9 L205.0,991.9 L206.0,991.5 L207.4,991.6 L208.6,991.3 L210.0,990.8 L210.9,990.4 L211.9,989.8 L213.0,989.0 L214.0,988.1 L214.9,987.2 L215.7,986.3 L216.5,985.3 L217.1,984.3 L217.7,983.2 L218.3,982.1 L218.8,981.0 L219.4,980.0 L219.9,979.0 L220.5,977.9 L220.9,976.6 L221.4,974.9 L221.7,973.9 L222.0,972.9 L222.5,971.7 L222.7,970.5 L223.1,969.2 L223.6,967.9 L223.6,966.5 L224.1,965.1 L224.6,963.7 L224.9,962.3 L225.2,961.2 L225.4,960.0 L225.8,958.8 L226.0,957.6 L226.2,956.3 L226.7,955.1 L226.8,953.8 L226.9,952.5 L227.2,951.3 L227.5,950.0 L227.8,948.7 L227.8,947.4 L228.3,946.3 L228.7,945.0 L228.8,943.7 L229.2,942.5 L229.5,941.2 L229.8,940.0 L230.2,938.7 L230.2,937.4 L230.6,936.2 L230.9,935.0 L231.2,933.8 L231.5,932.6 L231.4,931.3 L232.1,930.1 L232.1,928.8 L232.6,927.6 L232.6,926.3 L233.1,925.2 L233.4,924.0 L233.6,922.7 L233.8,921.5 L234.2,920.3 L234.4,919.0 L234.6,917.7 L235.0,916.5 L235.2,915.2 L235.3,913.9 L235.9,912.7 L235.7,911.3 L236.2,910.0 L236.3,908.7 L236.6,907.4 L236.9,906.2 L237.0,905.0 L237.3,903.9 L237.2,902.9 L237.5,901.3 L238.0,899.9 L238.1,898.5 L238.3,897.3 L238.4,896.2 L238.9,895.1 L239.1,894.0 L239.4,892.6 L239.5,891.3 L239.9,890.1 L240.1,888.8 L240.7,887.6 L241.1,886.4 L241.3,885.0 L242.0,883.7 L242.4,882.4 L242.8,881.4 L244.3,881.7 L245.1,883.2 L245.6,882.1 L246.0,880.5 L246.6,878.8 L247.0,877.8 L247.9,878.4 L248.9,879.2 L249.7,878.9 L250.8,879.5 L251.2,880.8 L251.9,882.3 L252.5,883.5 L252.9,884.8 L253.5,886.2 L254.1,887.6 L254.4,888.8 L254.9,889.9 L255.5,891.1 L255.7,892.5 L256.2,894.0 L256.2,895.1 L256.4,896.1 L256.8,897.3 L257.0,898.5 L257.1,899.8 L257.4,901.1 L257.6,902.5 L258.0,904.0 L258.1,905.1 L258.3,906.2 L258.5,907.4 L258.9,908.5 L259.0,909.8 L259.5,911.0 L259.7,912.3 L260.0,913.6 L259.9,914.9 L260.4,916.2 L260.5,917.5 L260.7,918.7 L260.9,919.9 L261.2,921.1 L261.3,922.4 L261.4,923.6 L261.8,924.8 L261.9,926.0 L262.1,927.2 L262.4,928.4 L262.8,929.6 L262.9,930.9 L263.0,932.1 L263.5,933.3 L263.6,934.5 L263.6,935.8 L263.9,937.0 L264.1,938.3 L264.3,939.6 L264.5,940.8 L264.9,942.0 L265.2,943.3 L265.3,944.5 L265.4,945.7 L265.8,946.9 L266.1,948.0 L266.4,949.3 L266.8,950.5 L267.1,951.8 L267.6,952.9 L267.8,954.1 L268.5,955.2 L268.6,956.4 L269.2,957.5 L269.7,958.7 L269.9,960.0 L270.5,961.2 L271.1,962.3 L271.4,963.6 L271.7,964.9 L272.3,966.1 L272.7,967.4 L273.1,968.6 L273.7,969.9 L274.2,971.0 L274.6,972.2 L275.2,973.3 L275.9,974.5 L276.7,975.6 L277.1,976.9 L277.7,978.0 L278.5,979.0 L279.2,980.1 L279.7,981.2 L280.7,982.0 L281.2,983.1 L281.8,984.2 L282.9,984.9 L283.6,986.0 L284.4,987.0 L285.4,987.8 L286.2,988.6 L287.1,989.4 L288.2,990.0 L289.1,990.7 L290.0,991.3 L291.2,991.9 L292.5,992.3 L293.8,992.6 L295.2,992.8 L296.5,993.0 L297.9,993.2 L299.3,993.3 L298.9,993.6 L297.6,993.6 L296.5,993.8 L298.3,993.7 L302.5,993.6 L310.0,993.4 L311.4,993.7 L312.8,993.6 L314.4,993.7 L316.1,993.6 L317.9,993.6 L318.9,993.7 L319.8,993.5 L320.8,993.7 L321.8,993.6 L322.8,993.6 L323.9,993.7 L325.0,993.8 L326.0,993.5 L327.2,993.6 L328.3,993.6 L329.5,993.6 L330.6,993.6 L331.8,993.5 L333.0,993.8 L334.2,993.7 L335.5,993.5 L336.7,993.5 L338.0,993.8 L339.3,993.7 L340.6,993.8 L341.9,993.7 L343.3,993.6 L344.6,993.6 L346.0,993.4 L347.3,993.6 L348.7,993.6 L350.1,993.7 L351.5,993.6 L352.9,993.6 L354.3,993.7 L355.8,993.7 L357.2,993.7 L358.7,993.6 L360.1,993.6 L361.6,993.7 L363.0,993.6 L364.5,993.6 L366.0,993.6 L367.5,993.6 L369.0,993.6 L370.4,993.6 L371.9,993.6 L373.4,993.6 L374.9,993.6 L376.4,993.5 L377.9,993.7 L379.4,993.7 L380.9,993.7 L382.4,993.6 L383.9,993.7 L385.4,993.5 L386.9,993.5 L388.4,993.6 L389.9,993.5 L391.4,993.7 L392.8,993.5 L394.3,993.4 L395.8,993.5 L397.2,993.7 L398.7,993.6 L400.2,993.5 L401.6,993.6 L403.0,993.7 L404.5,993.7 L405.9,993.6 L407.3,993.7 L408.7,993.7 L410.1,993.6 L411.4,993.7 L412.8,993.7 L414.1,993.7 L415.5,993.7 L416.8,993.5 L418.1,993.6 L419.4,993.7 L420.7,993.6 L422.0,993.7 L423.2,993.7 L424.4,993.7 L425.7,993.6 L426.9,993.8 L428.0,993.7 L429.2,993.6 L430.3,993.6 L431.5,993.8 L432.6,993.6 L433.7,993.7 L434.7,993.7 L435.8,993.6 L436.8,993.5 L437.8,993.6 L438.7,993.6 L439.7,993.7 L440.6,993.7 L442.4,993.6 L444.0,993.7 L445.6,993.6 L447.1,993.6 L448.4,993.6 L449.0,993.6" fill="none" stroke="#d2559c" stroke-width="2.0" stroke-linejoin="round" stroke-linecap="round" />
<path d="M48.0,991.8 L49.3,992.9 L50.9,992.2 L51.7,992.2 L52.6,991.9 L53.5,991.8 L54.5,992.0 L55.5,991.6 L56.6,991.3 L57.7,991.2 L58.8,991.1 L60.0,991.8 L61.1,992.0 L62.4,992.5 L63.6,992.0 L64.9,991.9 L66.2,992.1 L67.5,991.7 L68.8,990.8 L70.2,992.3 L71.6,991.5 L72.9,991.9 L74.3,991.6 L75.7,993.3 L77.1,992.4 L78.5,992.0 L80.0,991.2 L81.4,992.3 L82.8,991.4 L84.2,992.4 L85.6,991.0 L87.0,991.8 L88.3,992.3 L89.7,991.4 L91.1,991.9 L92.4,991.9 L93.7,992.3 L95.0,991.6 L96.3,992.2 L97.6,992.9 L98.8,991.1 L100.0,991.4 L101.2,992.1 L102.5,991.5 L103.8,991.2 L105.0,992.6 L106.3,992.4 L107.6,992.4 L108.8,992.4 L110.1,992.2 L111.4,991.4 L112.7,990.6 L114.0,992.1 L115.2,991.3 L116.5,991.9 L117.8,992.1 L119.1,991.2 L120.4,991.7 L121.6,992.8 L122.9,992.2 L124.2,991.0 L125.4,991.7 L126.7,991.8 L127.9,992.1 L129.2,992.2 L130.4,991.8 L131.7,991.7 L132.9,992.3 L134.1,991.1 L135.3,992.4 L136.5,992.0 L137.7,991.5 L138.9,991.5 L140.1,991.9 L141.2,991.0 L142.4,990.6 L143.5,992.0 L144.6,992.5 L145.7,991.7 L146.8,991.8 L147.9,991.7 L149.0,991.2 L150.0,992.0 L151.5,992.2 L152.9,991.8 L154.3,992.2 L155.8,991.2 L157.2,991.9 L158.6,991.3 L159.9,991.5 L161.3,991.9 L162.6,991.8 L164.0,992.2 L165.3,992.1 L166.6,991.1 L167.8,992.4 L169.1,990.9 L170.3,991.7 L171.5,991.9 L172.7,991.7 L173.9,992.0 L175.0,991.7 L176.1,991.2 L177.2,992.1 L178.3,991.7 L179.3,991.2 L180.3,991.7 L181.3,991.7 L182.3,991.8 L183.2,991.3 L184.1,991.7 L185.0,991.5 L187.0,992.4 L188.8,991.3 L190.4,992.1 L191.8,991.3 L193.2,991.8 L194.4,992.3 L195.4,990.9 L196.4,991.0 L197.3,990.4 L198.2,990.4 L199.1,990.4 L200.0,990.6 L201.8,990.7 L203.2,990.5 L204.1,989.9 L205.1,989.9 L205.9,989.1 L207.6,989.4 L208.8,988.6 L209.9,987.9 L210.8,987.3 L211.6,986.5 L212.3,985.1 L212.8,984.3 L213.2,983.2 L213.7,982.0 L214.2,980.8 L214.6,979.5 L215.2,978.3 L215.7,977.1 L216.0,975.9 L216.6,974.8 L217.1,973.7 L217.3,972.6 L217.5,971.4 L217.8,970.2 L218.2,969.0 L218.5,967.8 L218.8,966.7 L219.2,965.6 L219.4,964.4 L219.5,963.1 L220.1,961.7 L220.3,960.0 L220.6,959.0 L220.6,957.9 L221.2,956.9 L221.0,955.6 L221.4,954.5 L221.7,953.2 L221.5,951.9 L221.9,950.6 L222.1,949.3 L222.6,948.0 L222.8,946.7 L222.8,945.3 L222.9,944.0 L223.1,942.8 L223.4,941.7 L223.5,940.5 L223.8,939.4 L223.8,938.2 L223.9,937.0 L224.4,935.9 L224.4,934.7 L224.4,933.4 L224.6,932.2 L224.9,931.0 L225.0,929.7 L225.0,928.4 L225.4,927.1 L225.3,925.7 L225.6,924.6 L225.5,923.5 L225.7,922.3 L226.0,921.2 L225.9,920.0 L226.2,918.8 L226.3,917.6 L226.3,916.4 L226.7,915.2 L226.7,914.0 L226.8,912.7 L227.0,911.5 L227.2,910.3 L227.3,909.0 L227.2,907.8 L227.5,906.6 L227.5,905.3 L227.5,904.1 L227.7,902.9 L228.0,901.7 L227.8,900.5 L228.1,899.2 L228.3,898.0 L228.2,896.7 L228.3,895.4 L228.3,894.2 L228.5,892.9 L228.5,891.6 L228.7,890.4 L228.7,889.1 L228.9,887.9 L228.8,886.7 L228.9,885.5 L229.2,884.4 L229.2,883.2 L228.9,882.1 L229.5,881.0 L229.3,880.0 L229.6,878.6 L229.7,877.2 L229.7,875.9 L229.7,874.7 L229.6,873.5 L229.9,872.4 L230.2,871.2 L229.9,870.1 L230.2,869.0 L230.3,867.9 L230.3,866.7 L230.2,865.5 L230.4,864.3 L230.5,863.1 L230.7,862.0 L230.5,860.8 L230.6,859.6 L230.7,858.4 L230.9,857.3 L230.7,856.1 L230.9,854.9 L230.9,853.6 L231.1,852.4 L231.3,851.1 L231.2,849.8 L231.5,848.5 L231.5,847.1 L231.6,846.0 L231.7,844.9 L231.7,843.7 L231.9,842.6 L232.0,841.4 L232.0,840.1 L232.2,838.9 L232.3,837.7 L232.3,836.4 L232.5,835.2 L232.7,834.0 L232.8,832.7 L233.0,831.5 L233.0,830.2 L233.1,829.0 L233.0,827.8 L233.2,826.6 L233.5,825.5 L233.4,824.2 L233.6,823.0 L234.0,821.7 L234.0,820.5 L234.0,819.2 L234.0,818.0 L234.3,816.8 L234.8,815.6 L234.7,814.4 L234.9,813.2 L235.1,812.0 L235.1,810.8 L235.4,809.6 L235.5,808.4 L235.6,807.3 L235.9,806.1 L235.9,804.8 L236.1,803.6 L236.2,802.3 L236.6,801.1 L236.6,799.8 L237.0,798.5 L236.9,797.3 L237.1,796.0 L237.1,794.8 L237.4,793.6 L237.7,792.4 L237.9,791.3 L237.9,790.1 L238.1,789.0 L238.4,788.0 L238.5,786.5 L238.7,785.1 L239.0,783.7 L239.0,782.4 L239.4,781.2 L239.4,779.9 L239.7,778.7 L239.8,777.5 L240.0,776.3 L240.3,775.0 L240.4,773.7 L240.4,772.4 L240.8,771.1 L241.0,769.7 L241.3,768.4 L241.6,767.1 L241.6,765.9 L242.1,764.7 L242.1,763.6 L242.4,762.6 L242.5,760.8 L242.7,759.4 L242.8,758.1 L242.9,756.9 L243.3,755.8 L243.7,754.6 L244.3,753.5 L244.8,752.5 L245.0,751.3 L245.5,749.9 L245.7,748.4 L245.8,747.0 L246.2,746.0 L247.3,745.5 L248.5,745.6 L250.1,746.3 L250.5,747.3 L251.3,748.4 L251.8,749.9 L252.4,750.9 L253.0,752.2 L253.4,753.6 L253.8,755.1 L253.9,756.2 L254.3,757.3 L254.3,758.5 L254.5,759.7 L254.8,761.1 L254.9,762.6 L255.0,763.7 L255.0,764.8 L255.1,765.9 L255.3,767.0 L255.5,768.3 L255.5,769.6 L255.7,770.9 L255.9,772.4 L255.9,773.9 L256.2,774.9 L256.2,776.0 L256.4,777.2 L256.6,778.3 L256.5,779.6 L256.9,780.8 L256.9,782.1 L257.0,783.3 L257.1,784.6 L257.3,785.9 L257.3,787.2 L257.6,788.5 L257.7,789.7 L257.9,791.0 L258.0,792.2 L258.2,793.4 L258.4,794.6 L258.5,795.8 L258.6,797.0 L258.6,798.2 L258.9,799.4 L258.9,800.6 L259.2,801.8 L259.2,803.1 L259.5,804.3 L259.7,805.6 L259.6,806.9 L259.8,808.3 L259.9,809.4 L260.0,810.5 L260.3,811.6 L260.5,812.8 L260.6,814.0 L260.7,815.1 L260.7,816.4 L260.9,817.6 L261.0,818.8 L261.1,820.0 L261.3,821.2 L261.4,822.5 L261.6,823.7 L261.4,825.0 L261.8,826.2 L262.0,827.4 L262.1,828.6 L262.2,829.8 L262.0,831.0 L262.3,832.2 L262.6,833.5 L262.4,834.8 L262.9,836.0 L262.7,837.3 L262.7,838.6 L263.1,839.9 L263.1,841.1 L263.3,842.4 L263.8,843.6 L263.5,844.8 L263.8,846.0 L264.1,847.2 L263.8,848.3 L264.1,849.4 L264.1,850.4 L264.2,851.4 L264.4,853.0 L264.7,854.4 L264.6,855.6 L264.7,856.7 L264.9,857.8 L264.9,858.9 L264.9,860.0 L264.9,861.3 L265.2,862.7 L265.3,864.3 L265.3,865.3 L265.4,866.4 L265.6,867.5 L265.7,868.7 L265.9,869.9 L265.8,871.2 L266.0,872.4 L265.9,873.7 L266.2,875.0 L266.3,876.4 L266.3,877.7 L266.3,879.1 L266.6,880.4 L266.8,881.7 L266.8,883.0 L267.1,884.2 L267.0,885.5 L267.4,886.7 L267.6,888.0 L267.7,889.3 L267.9,890.6 L267.9,891.9 L268.2,893.1 L268.4,894.4 L268.9,895.6 L268.9,896.8 L269.2,898.1 L269.6,899.3 L269.4,900.6 L270.0,901.7 L270.1,903.0 L270.4,904.2 L270.6,905.4 L270.7,906.7 L270.9,908.0 L271.2,909.2 L271.3,910.5 L271.5,911.7 L271.7,913.0 L271.8,914.2 L272.2,915.4 L272.4,916.7 L272.6,917.9 L272.9,919.2 L273.0,920.4 L273.1,921.7 L273.3,923.0 L273.6,924.2 L273.8,925.5 L273.9,926.7 L274.1,928.0 L274.6,929.2 L274.7,930.4 L274.7,931.7 L274.9,933.0 L275.1,934.2 L275.3,935.5 L275.7,936.7 L275.9,937.9 L276.0,939.2 L276.3,940.4 L276.4,941.7 L276.4,943.0 L277.0,944.2 L277.0,945.5 L277.1,946.7 L277.4,948.0 L277.8,949.3 L278.1,950.6 L278.3,952.0 L278.7,953.3 L278.8,954.7 L279.1,956.1 L279.4,957.4 L279.5,958.8 L279.9,960.1 L280.2,961.3 L280.4,962.5 L280.6,963.7 L280.9,964.8 L281.1,965.8 L281.2,966.7 L281.8,968.5 L282.0,970.0 L282.5,971.1 L282.8,972.1 L283.2,973.0 L283.7,973.9 L283.8,975.1 L284.5,976.3 L285.0,977.6 L285.4,979.0 L285.9,980.2 L286.7,981.4 L287.4,982.6 L288.1,983.7 L289.0,984.8 L290.1,985.8 L291.1,986.8 L292.0,987.8 L293.3,988.3 L293.9,989.4 L295.1,990.1 L296.3,990.3 L297.2,991.4 L298.5,991.6 L300.1,990.8 L301.0,991.5 L302.2,992.1 L303.7,991.4 L306.2,990.9 L310.0,991.3 L311.5,991.4 L312.4,991.4 L313.3,991.8 L314.3,991.9 L315.3,991.9 L316.4,991.0 L317.5,991.5 L318.7,992.1 L319.9,991.5 L321.1,991.3 L322.4,991.6 L323.7,992.5 L325.0,991.2 L326.4,991.6 L327.8,991.6 L329.2,991.4 L330.7,991.7 L332.1,991.5 L333.6,991.2 L335.1,991.6 L336.6,991.5 L338.1,991.5 L339.6,991.8 L341.1,991.9 L342.6,991.9 L344.1,991.9 L345.6,991.3 L347.1,991.8 L348.5,991.6 L350.0,991.4 L351.4,991.7 L352.9,991.6 L354.3,991.6 L355.7,991.9 L357.0,991.3 L358.3,991.7 L359.6,991.4 L360.9,991.5 L362.1,991.5 L363.3,991.9 L364.5,991.9 L365.5,991.8 L366.6,991.3 L367.6,991.7 L368.5,992.2 L369.4,992.1 L370.3,991.9 L371.8,991.7 L372.4,991.4" fill="none" stroke="#5648a8" stroke-width="2.2" stroke-linejoin="round" stroke-linecap="round" />
<text x="259.3" y="754.5" font-size="17.4" text-anchor="start" >13 W</text>
<text x="231.6" y="961.2" font-size="17.4" text-anchor="start" >6 W</text>
<path d="M65.5,0.6 V306.6 H409.5 V0.6" fill="none" stroke="#000" stroke-width="1.45"/>
<line x1="64.8" y1="0.9" x2="410.2" y2="0.9" stroke="#3a3a3a" stroke-width="1.1"/>
<line x1="65.5" y1="259.8" x2="71.5" y2="259.8" stroke="#000" stroke-width="1.45"/>
<text x="60.3" y="265.6" font-size="17.3" text-anchor="end" >10</text>
<line x1="65.5" y1="213" x2="71.5" y2="213" stroke="#000" stroke-width="1.45"/>
<text x="60.3" y="218.8" font-size="17.3" text-anchor="end" >20</text>
<line x1="65.5" y1="166.2" x2="71.5" y2="166.2" stroke="#000" stroke-width="1.45"/>
<text x="60.3" y="172" font-size="17.3" text-anchor="end" >30</text>
<line x1="65.5" y1="119.4" x2="71.5" y2="119.4" stroke="#000" stroke-width="1.45"/>
<text x="60.3" y="125.2" font-size="17.3" text-anchor="end" >40</text>
<line x1="65.5" y1="72.6" x2="71.5" y2="72.6" stroke="#000" stroke-width="1.45"/>
<text x="60.3" y="78.4" font-size="17.3" text-anchor="end" >50</text>
<line x1="65.5" y1="25.8" x2="71.5" y2="25.8" stroke="#000" stroke-width="1.45"/>
<text x="60.3" y="31.6" font-size="17.3" text-anchor="end" >60</text>
<line x1="101.75" y1="306.6" x2="101.75" y2="300.6" stroke="#000" stroke-width="1.45"/>
<line x1="138" y1="306.6" x2="138" y2="300.6" stroke="#000" stroke-width="1.45"/>
<line x1="174.25" y1="306.6" x2="174.25" y2="300.6" stroke="#000" stroke-width="1.45"/>
<line x1="210.5" y1="306.6" x2="210.5" y2="300.6" stroke="#000" stroke-width="1.45"/>
<line x1="246.75" y1="306.6" x2="246.75" y2="300.6" stroke="#000" stroke-width="1.45"/>
<line x1="283" y1="306.6" x2="283" y2="300.6" stroke="#000" stroke-width="1.45"/>
<line x1="319.25" y1="306.6" x2="319.25" y2="300.6" stroke="#000" stroke-width="1.45"/>
<line x1="355.5" y1="306.6" x2="355.5" y2="300.6" stroke="#000" stroke-width="1.45"/>
<line x1="391.75" y1="306.6" x2="391.75" y2="300.6" stroke="#000" stroke-width="1.45"/>
<text x="138" y="325.3" font-size="17.3" text-anchor="middle" >40</text>
<text x="210.5" y="325.3" font-size="17.3" text-anchor="middle" >80</text>
<text x="283" y="325.3" font-size="17.3" text-anchor="middle" >120</text>
<text x="355.5" y="325.3" font-size="17.3" text-anchor="middle" >160</text>
<text x="55.9" y="325.3" font-size="17.3" text-anchor="middle" >0</text>
<text x="243" y="343.6" font-size="18.4" text-anchor="start" >Input pump power/W</text>
<text x="0" y="0" font-size="18.4" text-anchor="middle" transform="translate(27.6,94) rotate(-90)">Output power/W</text>
<text x="95.7" y="30.8" font-size="18" text-anchor="start" >a</text>
<text x="300.5" y="180.4" font-size="17.4" text-anchor="start" >70%</text>
<rect x="94.9" y="253.7" width="7.0" height="7.0" fill="#000"/>
<rect x="159.6" y="147.8" width="7.0" height="7.0" fill="#000"/>
<rect x="199.2" y="82.9" width="7.0" height="7.0" fill="#000"/>
<rect x="233.4" y="24.4" width="7.0" height="7.0" fill="#000"/>
<rect x="255.2" y="25.1" width="7.0" height="7.0" fill="#000"/>
<rect x="279.6" y="9.9" width="7.0" height="7.0" fill="#000"/>
<rect x="298.3" y="5.8" width="7.0" height="7.0" fill="#000"/>
<rect x="316.4" y="5.9" width="7.0" height="7.0" fill="#000"/>
<rect x="345.4" y="15.1" width="7.0" height="7.0" fill="#000"/>
<rect x="361.6" y="24.1" width="7.0" height="7.0" fill="#000"/>
<rect x="377.5" y="24.1" width="7.0" height="7.0" fill="#000"/>
<rect x="398.8" y="28" width="7.0" height="7.0" fill="#000"/>
<circle cx="259.2" cy="301.9" r="3.0" fill="#000"/>
<circle cx="282.4" cy="285.3" r="3.0" fill="#000"/>
<circle cx="301.7" cy="257.1" r="3.0" fill="#000"/>
<circle cx="319.5" cy="223.7" r="3.0" fill="#000"/>
<circle cx="348.8" cy="169.5" r="3.0" fill="#000"/>
<circle cx="365.6" cy="133.9" r="3.0" fill="#000"/>
<circle cx="380.9" cy="106.7" r="3.0" fill="#000"/>
<circle cx="402.2" cy="76.7" r="3.0" fill="#000"/>
<line x1="269.8" y1="306.3" x2="402.2" y2="67.4" stroke="#000" stroke-width="2.1"/>
<path d="M47.5,367.9 H447.8 V657.6 H47.5 Z" fill="none" stroke="#000" stroke-width="1.45"/>
<line x1="47.5" y1="620.18" x2="53.5" y2="620.18" stroke="#000" stroke-width="1.45"/>
<line x1="47.5" y1="582.75" x2="53.5" y2="582.75" stroke="#000" stroke-width="1.45"/>
<line x1="47.5" y1="545.33" x2="53.5" y2="545.33" stroke="#000" stroke-width="1.45"/>
<line x1="47.5" y1="507.9" x2="53.5" y2="507.9" stroke="#000" stroke-width="1.45"/>
<line x1="47.5" y1="470.48" x2="53.5" y2="470.48" stroke="#000" stroke-width="1.45"/>
<line x1="47.5" y1="433.05" x2="53.5" y2="433.05" stroke="#000" stroke-width="1.45"/>
<line x1="47.5" y1="395.63" x2="53.5" y2="395.63" stroke="#000" stroke-width="1.45"/>
<text x="40" y="588.55" font-size="17.3" text-anchor="end" >1</text>
<text x="40" y="513.7" font-size="17.3" text-anchor="end" >2</text>
<text x="40" y="438.85" font-size="17.3" text-anchor="end" >3</text>
<text x="40.8" y="664.8" font-size="17.3" text-anchor="end" >0</text>
<line x1="97.7" y1="657.6" x2="97.7" y2="651.6" stroke="#000" stroke-width="1.45"/>
<line x1="147.7" y1="657.6" x2="147.7" y2="651.6" stroke="#000" stroke-width="1.45"/>
<line x1="197.7" y1="657.6" x2="197.7" y2="651.6" stroke="#000" stroke-width="1.45"/>
<line x1="247.7" y1="657.6" x2="247.7" y2="651.6" stroke="#000" stroke-width="1.45"/>
<line x1="297.7" y1="657.6" x2="297.7" y2="651.6" stroke="#000" stroke-width="1.45"/>
<line x1="347.7" y1="657.6" x2="347.7" y2="651.6" stroke="#000" stroke-width="1.45"/>
<line x1="397.7" y1="657.6" x2="397.7" y2="651.6" stroke="#000" stroke-width="1.45"/>
<text x="30" y="677.8" font-size="17.3" text-anchor="start" >−<tspan dx="0.9">800</tspan></text>
<text x="129.4" y="677.8" font-size="17.3" text-anchor="start" >−<tspan dx="0.9">400</tspan></text>
<text x="248.6" y="677.8" font-size="17.3" text-anchor="middle" >0</text>
<text x="348.6" y="677.8" font-size="17.3" text-anchor="middle" >400</text>
<text x="450.4" y="677.8" font-size="17.3" text-anchor="middle" >800</text>
<text x="336" y="699.8" font-size="18.4" text-anchor="start" >Distance/μm</text>
<text x="0" y="0" font-size="18.1" text-anchor="start" transform="translate(17.7,546.1) rotate(-90)">Intensity (arb. units)</text>
<text x="77" y="398.6" font-size="17.4" text-anchor="start" >b</text>
<path d="M47.4,719.4 H449.6 V1003.8 H47.4 Z" fill="none" stroke="#000" stroke-width="1.45"/>
<line x1="47.4" y1="996.2" x2="53.4" y2="996.2" stroke="#000" stroke-width="1.45"/>
<line x1="47.4" y1="938.95" x2="53.4" y2="938.95" stroke="#000" stroke-width="1.45"/>
<line x1="47.4" y1="881.7" x2="53.4" y2="881.7" stroke="#000" stroke-width="1.45"/>
<line x1="47.4" y1="824.45" x2="53.4" y2="824.45" stroke="#000" stroke-width="1.45"/>
<line x1="47.4" y1="767.2" x2="53.4" y2="767.2" stroke="#000" stroke-width="1.45"/>
<text x="41.2" y="773" font-size="17.3" text-anchor="end" >1.0</text>
<text x="41.2" y="887.5" font-size="17.3" text-anchor="end" >0.5</text>
<text x="41.2" y="1004.3" font-size="17.3" text-anchor="end" >0</text>
<line x1="97.68" y1="1003.8" x2="97.68" y2="997.8" stroke="#000" stroke-width="1.45"/>
<line x1="147.95" y1="1003.8" x2="147.95" y2="997.8" stroke="#000" stroke-width="1.45"/>
<line x1="198.23" y1="1003.8" x2="198.23" y2="997.8" stroke="#000" stroke-width="1.45"/>
<line x1="248.5" y1="1003.8" x2="248.5" y2="997.8" stroke="#000" stroke-width="1.45"/>
<line x1="298.78" y1="1003.8" x2="298.78" y2="997.8" stroke="#000" stroke-width="1.45"/>
<line x1="349.06" y1="1003.8" x2="349.06" y2="997.8" stroke="#000" stroke-width="1.45"/>
<line x1="399.33" y1="1003.8" x2="399.33" y2="997.8" stroke="#000" stroke-width="1.45"/>
<text x="31.2" y="1024.3" font-size="17.3" text-anchor="start" >−<tspan dx="0.9">800</tspan></text>
<text x="131" y="1024.3" font-size="17.3" text-anchor="start" >−<tspan dx="0.9">400</tspan></text>
<text x="250" y="1024.3" font-size="17.3" text-anchor="middle" >0</text>
<text x="351" y="1024.3" font-size="17.3" text-anchor="middle" >400</text>
<text x="451.5" y="1024.3" font-size="17.3" text-anchor="middle" >800</text>
<text x="337" y="1045.5" font-size="18.4" text-anchor="start" >Distance/μm</text>
<text x="0" y="0" font-size="18.1" text-anchor="start" transform="translate(12.9,926) rotate(-90)">Intensity (arb. units)</text>
<text x="76" y="749" font-size="17.4" text-anchor="start" >c</text>
</svg>
</body></html>
